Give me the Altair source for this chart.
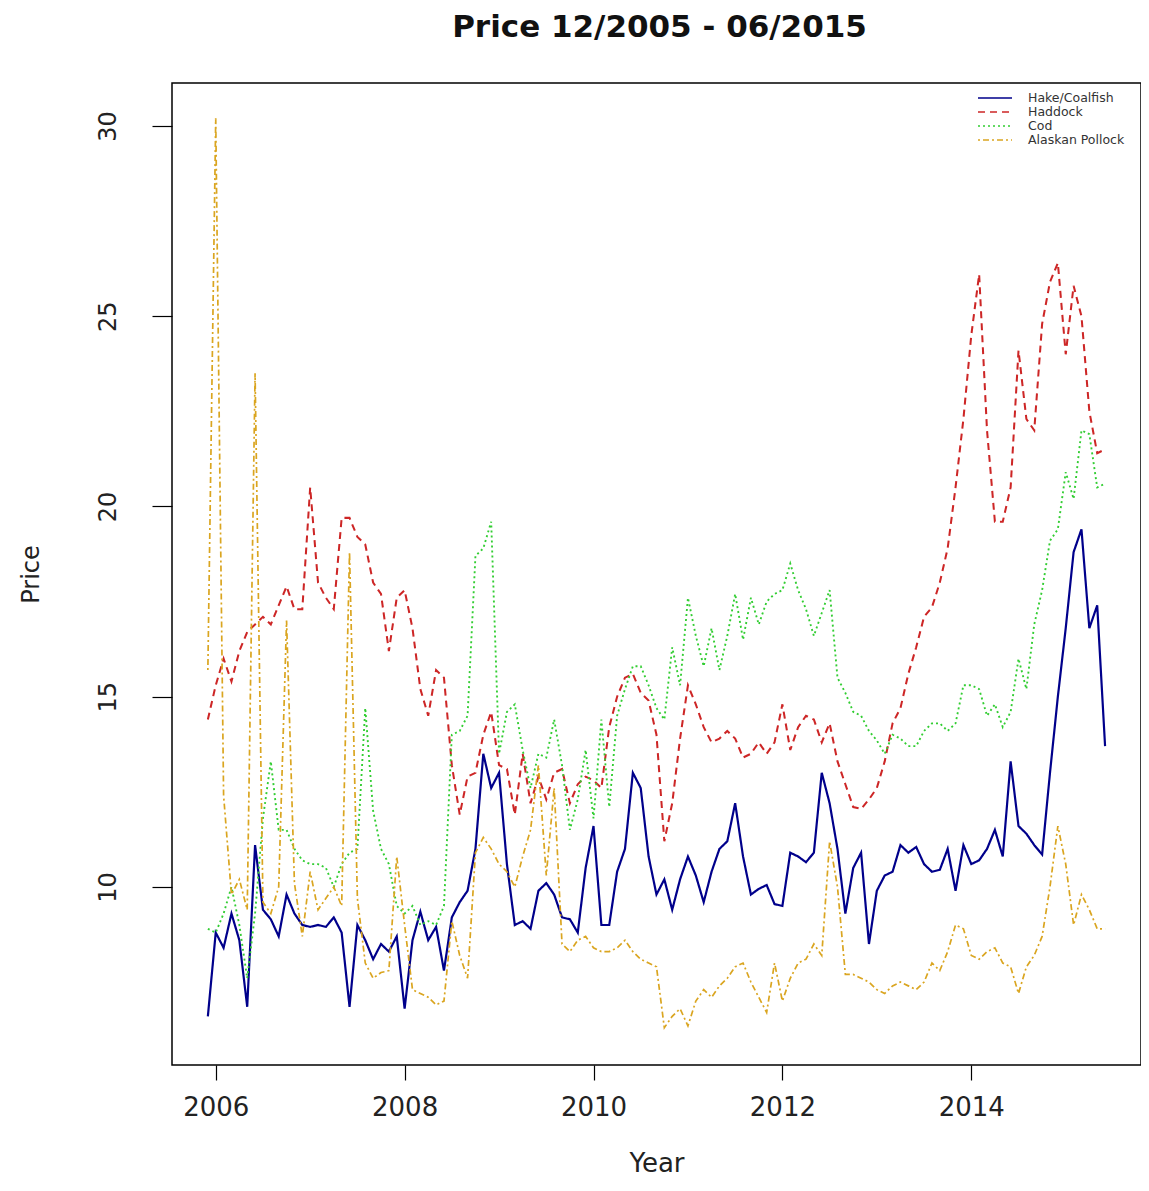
import altair as alt
import pandas as pd

# ---- data (monthly, 12/2005 - 06/2015) ----
series_names = ["Hake/Coalfish", "Haddock", "Cod", "Alaskan Pollock"]
first_month = "2005-12-01"
chart_title = "Price 12/2005 - 06/2015"

hake = [6.6, 8.8, 8.4, 9.3, 8.6, 6.85, 11.1, 9.4, 9.15, 8.7, 9.8, 9.3, 9.0, 8.95, 9.0,
        8.95, 9.2, 8.8, 6.85, 9.0, 8.6, 8.1, 8.5, 8.3, 8.7, 6.8, 8.6, 9.35, 8.6, 8.95,
        7.8, 9.2, 9.6, 9.9, 11.0, 13.5, 12.6, 13.0, 10.6, 9.0, 9.1, 8.9, 9.9, 10.1, 9.8,
        9.2, 9.15, 8.8, 10.5, 11.6, 9.0, 9.0, 10.4, 11.0, 13.0, 12.6, 10.8, 9.8, 10.2, 9.4,
        10.2, 10.8, 10.3, 9.6, 10.4, 11.0, 11.2, 12.2, 10.8, 9.8, 9.95, 10.05, 9.55, 9.5, 10.9,
        10.8, 10.65, 10.9, 13.0, 12.2, 11.0, 9.3, 10.5, 10.9, 8.5, 9.9, 10.3, 10.4, 11.1, 10.9,
        11.05, 10.6, 10.4, 10.45, 11.0, 9.9, 11.1, 10.6, 10.7, 11.0, 11.5, 10.8, 13.3, 11.6, 11.4,
        11.1, 10.85, 13.0, 15.0, 16.8, 18.8, 19.4, 16.8, 17.4, 13.7]

haddock = [14.4, 15.3, 16.0, 15.4, 16.2, 16.7, 16.9, 17.1, 16.9, 17.4, 17.9, 17.3, 17.3, 20.5, 18.0,
           17.6, 17.3, 19.7, 19.7, 19.2, 19.0, 18.0, 17.7, 16.2, 17.6, 17.8, 16.8, 15.2, 14.5, 15.7,
           15.5, 13.2, 11.9, 12.9, 13.0, 14.0, 14.6, 13.2, 13.1, 11.9, 13.5, 12.2, 12.9, 12.3, 13.0,
           13.1, 12.2, 12.7, 12.9, 12.8, 12.6, 14.2, 15.0, 15.5, 15.6, 15.1, 14.9, 14.0, 11.2, 12.2,
           13.9, 15.3, 14.8, 14.2, 13.8, 13.9, 14.1, 13.9, 13.4, 13.5, 13.8, 13.5, 13.8, 14.8, 13.6,
           14.2, 14.5, 14.4, 13.8, 14.3, 13.3, 12.7, 12.1, 12.05, 12.3, 12.6, 13.3, 14.3, 14.7, 15.6,
           16.3, 17.1, 17.35, 18.0, 18.9, 20.5, 22.3, 24.5, 26.1, 22.0, 19.6, 19.6, 20.5, 24.1, 22.3,
           22.0, 24.8, 25.9, 26.4, 24.0, 25.8, 25.0, 22.5, 21.4, 21.5]

cod = [8.9, 8.8, 9.3, 10.0, 9.0, 7.6, 9.3, 11.8, 13.3, 11.5, 11.5, 11.0, 10.7, 10.6, 10.6,
       10.5, 10.0, 10.6, 10.9, 11.0, 14.7, 12.0, 11.0, 10.6, 9.5, 9.3, 9.5, 9.0, 9.1, 9.0,
       9.5, 14.0, 14.1, 14.5, 18.7, 18.9, 19.6, 13.5, 14.6, 14.8, 13.6, 12.6, 13.5, 13.4, 14.4,
       13.2, 11.5, 12.3, 13.6, 11.8, 14.4, 12.1, 14.5, 15.2, 15.8, 15.8, 15.3, 14.7, 14.4, 16.3,
       15.3, 17.6, 16.6, 15.8, 16.8, 15.7, 16.6, 17.7, 16.5, 17.6, 16.9, 17.5, 17.7, 17.8, 18.5,
       17.8, 17.3, 16.6, 17.2, 17.8, 15.5, 15.1, 14.6, 14.5, 14.1, 13.85, 13.5, 14.0, 13.9, 13.7,
       13.7, 14.1, 14.3, 14.3, 14.1, 14.3, 15.3, 15.3, 15.2, 14.5, 14.8, 14.2, 14.6, 16.0, 15.2,
       16.9, 17.8, 19.1, 19.4, 20.9, 20.2, 22.0, 21.9, 20.5, 20.6]

pollock = [15.7, 30.2, 12.4, 9.8, 10.2, 9.4, 23.5, 9.6, 9.3, 10.0, 17.0, 10.1, 8.7, 10.4, 9.4,
           9.7, 10.0, 9.5, 18.8, 9.7, 8.0, 7.6, 7.75, 7.8, 10.8, 9.0, 7.3, 7.2, 7.1, 6.9,
           7.0, 9.1, 8.2, 7.6, 10.9, 11.3, 11.0, 10.6, 10.4, 10.0, 10.8, 11.5, 13.2, 10.3, 12.6,
           8.5, 8.3, 8.6, 8.7, 8.4, 8.3, 8.3, 8.4, 8.6, 8.3, 8.1, 8.0, 7.9, 6.3, 6.6,
           6.8, 6.35, 7.0, 7.3, 7.1, 7.4, 7.6, 7.9, 8.0, 7.5, 7.1, 6.7, 8.0, 7.0, 7.6,
           8.0, 8.1, 8.5, 8.2, 11.2, 10.0, 7.7, 7.7, 7.6, 7.5, 7.3, 7.2, 7.4, 7.5, 7.4,
           7.3, 7.5, 8.0, 7.8, 8.3, 9.0, 8.9, 8.2, 8.1, 8.3, 8.4, 8.0, 7.9, 7.2, 7.9,
           8.2, 8.7, 10.0, 11.6, 10.6, 9.0, 9.8, 9.4, 8.9, 8.9]

x_ticks = [2006, 2008, 2010, 2012, 2014]
y_ticks = [10, 15, 20, 25, 30]

# ---- styles ----
colors = ["#00008B", "#CD2626", "#32CD32", "#DAA520"]
dashes = [[1, 0], [7, 5], [2, 3], [2, 3, 6, 3]]
FONT = "DejaVu Sans"

months = pd.date_range(first_month, periods=len(hake), freq="MS")
t = list(months.year + (months.month - 1) / 12.0)

rows = []
for name, vals in zip(series_names, [hake, haddock, cod, pollock]):
    for ti, v in zip(t, vals):
        rows.append({"t": ti, "price": v, "series": name})
df = pd.DataFrame(rows)

W, H = 969, 982

lines = alt.Chart(df).mark_line().encode(
    x=alt.X("t:Q",
            scale=alt.Scale(domain=[2005.537, 2015.797], nice=False, zero=False),
            axis=alt.Axis(values=x_ticks, format="d", title="Year",
                          tickSize=15, labelPadding=14, titlePadding=30)),
    y=alt.Y("price:Q",
            scale=alt.Scale(domain=[5.32, 31.13], nice=False, zero=False),
            axis=alt.Axis(values=y_ticks, title="Price", tickSize=20,
                          labelAngle=-90, labelAlign="center", labelBaseline="bottom",
                          labelPadding=32, titlePadding=53)),
    color=alt.Color("series:N", scale=alt.Scale(domain=series_names, range=colors), legend=None),
    strokeDash=alt.StrokeDash("series:N", scale=alt.Scale(domain=series_names, range=dashes), legend=None),
    strokeWidth=alt.StrokeWidth("series:N",
                                scale=alt.Scale(domain=series_names, range=[2.2, 1.7, 1.9, 1.7]),
                                legend=None),
)

layers = [lines]

# title as a text mark above the plot
layers.append(
    alt.Chart(pd.DataFrame({"label": [chart_title]})).mark_text(
        align="center", baseline="alphabetic", font=FONT, fontSize=31, fontWeight="bold",
        color="#111111").encode(x=alt.value(W / 2 + 3), y=alt.value(-46), text="label:N")
)

# legend (top right, inside the plot, no box)
for k, name in enumerate(series_names):
    ld = pd.DataFrame({"label": [name]})
    yk = 15 + 14 * k
    layers.append(
        alt.Chart(ld).mark_rule(color=colors[k], strokeDash=dashes[k], strokeWidth=1.5).encode(
            x=alt.value(806), x2=alt.value(840), y=alt.value(yk))
    )
    layers.append(
        alt.Chart(ld).mark_text(align="left", baseline="middle", font=FONT, fontSize=12.5,
                                color="#333333").encode(
            x=alt.value(856), y=alt.value(yk), text="label:N")
    )

chart = alt.layer(*layers).properties(
    width=W, height=H,
    autosize=alt.AutoSizeParams(type="none"),
    padding={"left": 164, "top": 75, "right": 0, "bottom": 116},
).configure_view(
    stroke="#000000", strokeWidth=1.5
).configure_axis(
    domain=False, grid=False, tickColor="#000000", tickWidth=1.2,
    labelFont=FONT, labelFontSize=24, labelColor="#222222",
    titleFont=FONT, titleFontSize=24, titleFontWeight="normal", titleColor="#222222",
).configure_axisX(labelFontSize=26, titleFontSize=26)

chart.save("out.html", embed_options={"renderer": "svg", "actions": False})
